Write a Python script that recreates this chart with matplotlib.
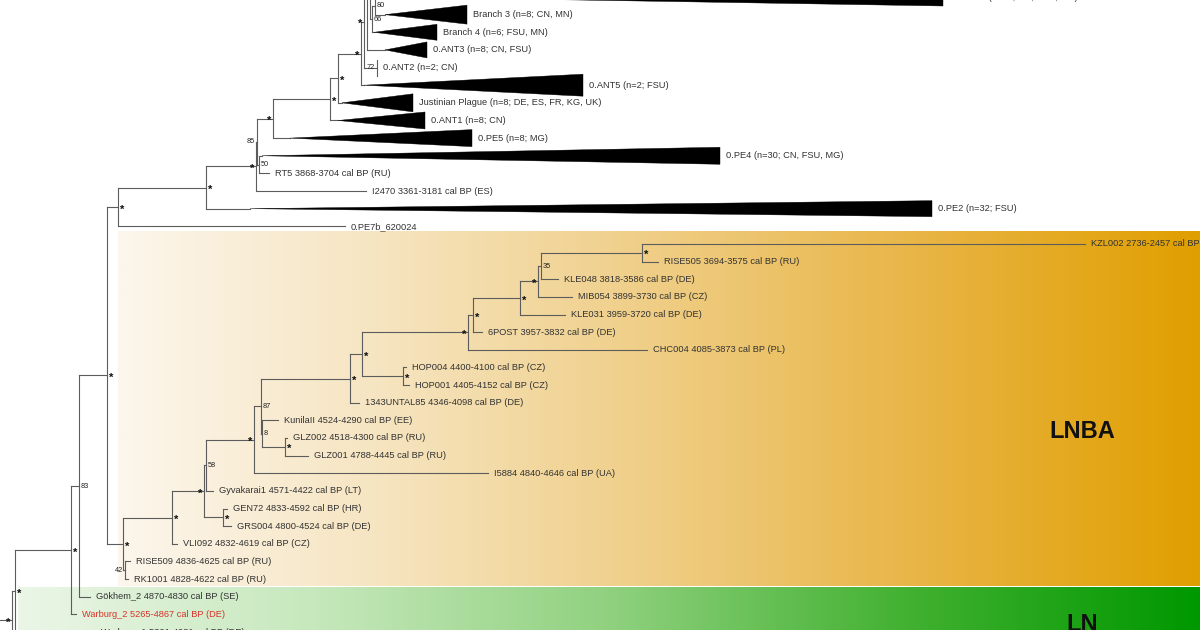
import matplotlib
matplotlib.use("Agg")
import matplotlib.pyplot as plt
import numpy as np
from matplotlib.colors import LinearSegmentedColormap
from matplotlib.patches import Polygon

plt.rcParams['font.family'] = ['Liberation Sans', 'DejaVu Sans']

# tree is laid out on the pixel scale of the original figure
ROW_Y0 = -3.0
ROW_STEP = 17.64


def row_y(r):
    return ROW_Y0 + ROW_STEP * r


# ---- leaves (row in the tree, tip position, label) ----
leaf_keys = ["b1", "b2", "branch3", "branch4", "ant3", "ant2", "ant5", "justinian",
             "ant1", "pe5", "pe4", "rt5", "i2470", "pe2", "pe7b",
             "kzl002", "rise505", "kle048", "mib054", "kle031", "6post", "chc004",
             "hop004", "hop001", "1343", "kunila", "glz002", "glz001", "i5884",
             "gyvakarai1", "gen72", "grs004", "vli092", "rise509", "rk1001",
             "gokhem2", "warburg2", "ln3", "ln4"]
leaf_rows = [-12, 0, 1, 2, 3, 4, 5, 6,
             7, 8, 9, 10, 11, 12, 13,
             14, 15, 16, 17, 18, 19, 20,
             21, 22, 23, 24, 25, 26, 27,
             28, 29, 30, 31, 32, 33,
             34, 35, 36, 37]
leaf_tips = [900, 943, 467, 437, 427, 377, 583, 413,
             425, 472, 720, 269, 366, 932, 345,
             1085, 658, 558, 572, 565, 482, 647,
             406, 409, 359, 278, 287, 308, 488,
             213, 227, 231, 177, 130, 128,
             90, 76, 95, 90]
leaf_labels = ["Branch 1", "Branch 2 (n=18; CN, FSU, MN)", "Branch 3 (n=8; CN, MN)",
               "Branch 4 (n=6; FSU, MN)", "0.ANT3 (n=8; CN, FSU)", "0.ANT2 (n=2; CN)",
               "0.ANT5 (n=2; FSU)", "Justinian Plague (n=8; DE, ES, FR, KG, UK)",
               "0.ANT1 (n=8; CN)", "0.PE5 (n=8; MG)", "0.PE4 (n=30; CN, FSU, MG)",
               "RT5 3868-3704 cal BP (RU)", "I2470 3361-3181 cal BP (ES)",
               "0.PE2 (n=32; FSU)", "0.PE7b_620024",
               "KZL002 2736-2457 cal BP (KZ)", "RISE505 3694-3575 cal BP (RU)",
               "KLE048 3818-3586 cal BP (DE)", "MIB054 3899-3730 cal BP (CZ)",
               "KLE031 3959-3720 cal BP (DE)", "6POST 3957-3832 cal BP (DE)",
               "CHC004 4085-3873 cal BP (PL)", "HOP004 4400-4100 cal BP (CZ)",
               "HOP001 4405-4152 cal BP (CZ)", "1343UNTAL85 4346-4098 cal BP (DE)",
               "KunilaII 4524-4290 cal BP (EE)", "GLZ002 4518-4300 cal BP (RU)",
               "GLZ001 4788-4445 cal BP (RU)", "I5884 4840-4646 cal BP (UA)",
               "Gyvakarai1 4571-4422 cal BP (LT)", "GEN72 4833-4592 cal BP (HR)",
               "GRS004 4800-4524 cal BP (DE)", "VLI092 4832-4619 cal BP (CZ)",
               "RISE509 4836-4625 cal BP (RU)", "RK1001 4828-4622 cal BP (RU)",
               "Gökhem_2 4870-4830 cal BP (SE)", "Warburg_2 5265-4867 cal BP (DE)",
               "Warburg_1 5301-4981 cal BP (DE)", ""]
red_leaves = ["warburg2"]

# ---- collapsed clades (wedges) ----
wedge_keys = ["b2", "branch3", "branch4", "ant3", "ant5", "justinian", "ant1", "pe5", "pe4", "pe2"]
wedge_start = [395, 385, 374, 385, 364, 342, 338, 290, 262, 250]
wedge_half = [9, 9.5, 8, 8, 11, 9, 8.5, 8.5, 8.5, 8]
bracket_keys = ["ant2"]
bracket_half = [8]

# ---- internal nodes: position and children ----
node_keys = ["n_top", "n_b", "n_a", "n_x3", "n_x2", "n_x1", "n_338", "n_330", "n_275",
             "n_50", "n_85", "n_257", "n_188", "n_pe",
             "n_kr", "n_35", "n_mib", "n_r", "n_t", "n_s", "n_hop", "n_u", "n_v",
             "n_glz", "n_c", "n_87", "n_a2", "n_e", "n_g", "n_f", "n_h", "n_j", "n_i",
             "n_k", "n_m", "n_l", "n_n", "n_o"]
node_x = [370, 372, 375, 367, 364, 361, 338, 330, 273,
          259, 257, 256, 206, 118,
          642, 541, 538, 520, 473, 468, 403, 362, 350,
          285, 262, 261, 254, 206, 223, 204, 172, 125, 123,
          107, 79, 71, 15, 12]
node_kids = [["b1", "n_b"], ["n_a", "branch4"], ["b2", "branch3"], ["n_top", "ant3"],
             ["n_x3", "ant2"], ["n_x2", "ant5"], ["n_x1", "justinian"], ["n_338", "ant1"],
             ["n_330", "pe5"], ["pe4", "rt5"], ["n_275", "n_50"], ["n_85", "i2470"],
             ["n_257", "pe2"], ["n_188", "pe7b"],
             ["kzl002", "rise505"], ["n_kr", "kle048"], ["n_35", "mib054"], ["n_mib", "kle031"],
             ["n_r", "6post"], ["n_t", "chc004"], ["hop004", "hop001"], ["n_s", "n_hop"],
             ["n_u", "1343"], ["glz002", "glz001"], ["kunila", "n_glz"], ["n_v", "n_c"],
             ["n_87", "i5884"], ["n_a2", "gyvakarai1"], ["gen72", "grs004"], ["n_e", "n_g"],
             ["n_f", "vli092"], ["rise509", "rk1001"], ["n_h", "n_j"],
             ["n_pe", "n_i"], ["n_k", "gokhem2"], ["n_m", "warburg2"], ["n_l", "ln3"],
             ["n_n", "ln4"]]

# ---- node support values ----
support_keys = ["n_a", "n_b", "n_x2", "n_x1", "n_338", "n_330", "n_275", "n_85", "n_257",
                "n_50", "n_188", "n_pe", "ant2",
                "n_kr", "n_35", "n_mib", "n_r", "n_t", "n_s", "n_hop", "n_u", "n_v",
                "n_glz", "n_c", "n_87", "n_a2", "n_e", "n_g", "n_f", "n_h", "n_j", "n_i",
                "n_k", "n_m", "n_l", "n_n", "n_o"]
support_text = ["80", "66", "*", "*", "*", "*", "*", "85", "*",
                "50", "*", "*", "72",
                "*", "35", "*", "*", "*", "*", "*", "*", "*",
                "*", "8", "87", "*", "58", "*", "*", "*", "42", "*",
                "*", "83", "*", "*", "*"]
support_left = ["n_x2", "n_x1", "n_275", "n_85", "n_257", "n_mib", "n_s", "n_a2",
                "n_f", "n_j", "n_o", "ant2"]

# ---- clade bands ----
band_names = ["LNBA", "LN"]
band_rows = [(13.32, 33.39), (33.5, 40.0)]
band_x0 = [118, 18]
band_label_rows = [24.65, 35.6]
band_colors = [["#fcf6ec", "#f6e4bf", "#efcd84", "#e8b443", "#e09f00"],
               ["#ebf6e7", "#c6e8bc", "#90d17f", "#43b132", "#009800"]]

LINE_C = "#5c5c5c"
TEXT_C = "#333333"

leaf_row = dict(zip(leaf_keys, leaf_rows))
leaf_tip = dict(zip(leaf_keys, leaf_tips))
leaf_lab = dict(zip(leaf_keys, leaf_labels))
wedge = {k: (s, h) for k, s, h in zip(wedge_keys, wedge_start, wedge_half)}
bracket = dict(zip(bracket_keys, bracket_half))
nx = dict(zip(node_keys, node_x))
kids = dict(zip(node_keys, node_kids))

pos_y = {}


def get_y(k):
    if k not in pos_y:
        if k in leaf_row:
            pos_y[k] = row_y(leaf_row[k])
        else:
            ys = [get_y(c) for c in kids[k]]
            pos_y[k] = (min(ys) + max(ys)) / 2
    return pos_y[k]


def start_x(k):
    if k in nx:
        return nx[k]
    if k in wedge:
        return wedge[k][0]
    return leaf_tip[k]


fig = plt.figure(figsize=(12, 6.3), dpi=100)
ax = fig.add_axes([0, 0, 1, 1])

# gradient bands
grad = np.linspace(0, 1, 512).reshape(1, -1)
for name, rows, x0, lrow, cols in zip(band_names, band_rows, band_x0, band_label_rows, band_colors):
    cmap = LinearSegmentedColormap.from_list(name, cols)
    ax.imshow(grad, cmap=cmap, aspect="auto", interpolation="bilinear",
              extent=(x0, 1200, row_y(rows[1]), row_y(rows[0])), zorder=0)
    ax.text(1082, row_y(lrow), name, fontsize=17, fontweight="bold",
            ha="center", va="center", color="#111111", zorder=5)

# branches
for n in node_keys:
    x = nx[n]
    ys = [get_y(c) for c in kids[n]]
    ax.plot([x, x], [min(ys), max(ys)], color=LINE_C, lw=0.8, zorder=2)
    for c in kids[n]:
        ax.plot([x, start_x(c)], [get_y(c), get_y(c)], color=LINE_C, lw=0.8, zorder=2)

root = node_keys[-1]
ax.plot([-10, nx[root]], [get_y(root)] * 2, color=LINE_C, lw=0.8, zorder=2)

# collapsed clades and labels
for k in leaf_keys:
    y = get_y(k)
    tip = leaf_tip[k]
    if k in wedge:
        s, h = wedge[k]
        ax.add_patch(Polygon([[s, y], [tip, y - h], [tip, y + h]], closed=True,
                             facecolor="black", edgecolor="black", lw=0.3, zorder=3))
    if k in bracket:
        h = bracket[k]
        ax.plot([tip, tip], [y - h, y + h], color=LINE_C, lw=0.8, zorder=2)
    col = "#d8322a" if k in red_leaves else TEXT_C
    ax.text(tip + 6, y, leaf_lab[k], fontsize=6.7, va="center", ha="left",
            color=col, zorder=4)

# support values
for k, t in zip(support_keys, support_text):
    x = start_x(k) if k in bracket else nx[k]
    y = get_y(k)
    left = k in support_left
    dx = -2 if left else 2
    ha = "right" if left else "left"
    if t == "*":
        ax.text(x + dx, y + 2.5, t, fontsize=8, fontweight="bold", ha=ha, va="center",
                color="#111111", zorder=4)
    else:
        ax.text(x + dx, y, t, fontsize=5.3, ha=ha, va="center", color="#222222", zorder=4)

ax.set_xlim(0, 1200)
ax.set_ylim(630, 0)
ax.axis("off")
fig.savefig("out.png", dpi=100, facecolor="white")
